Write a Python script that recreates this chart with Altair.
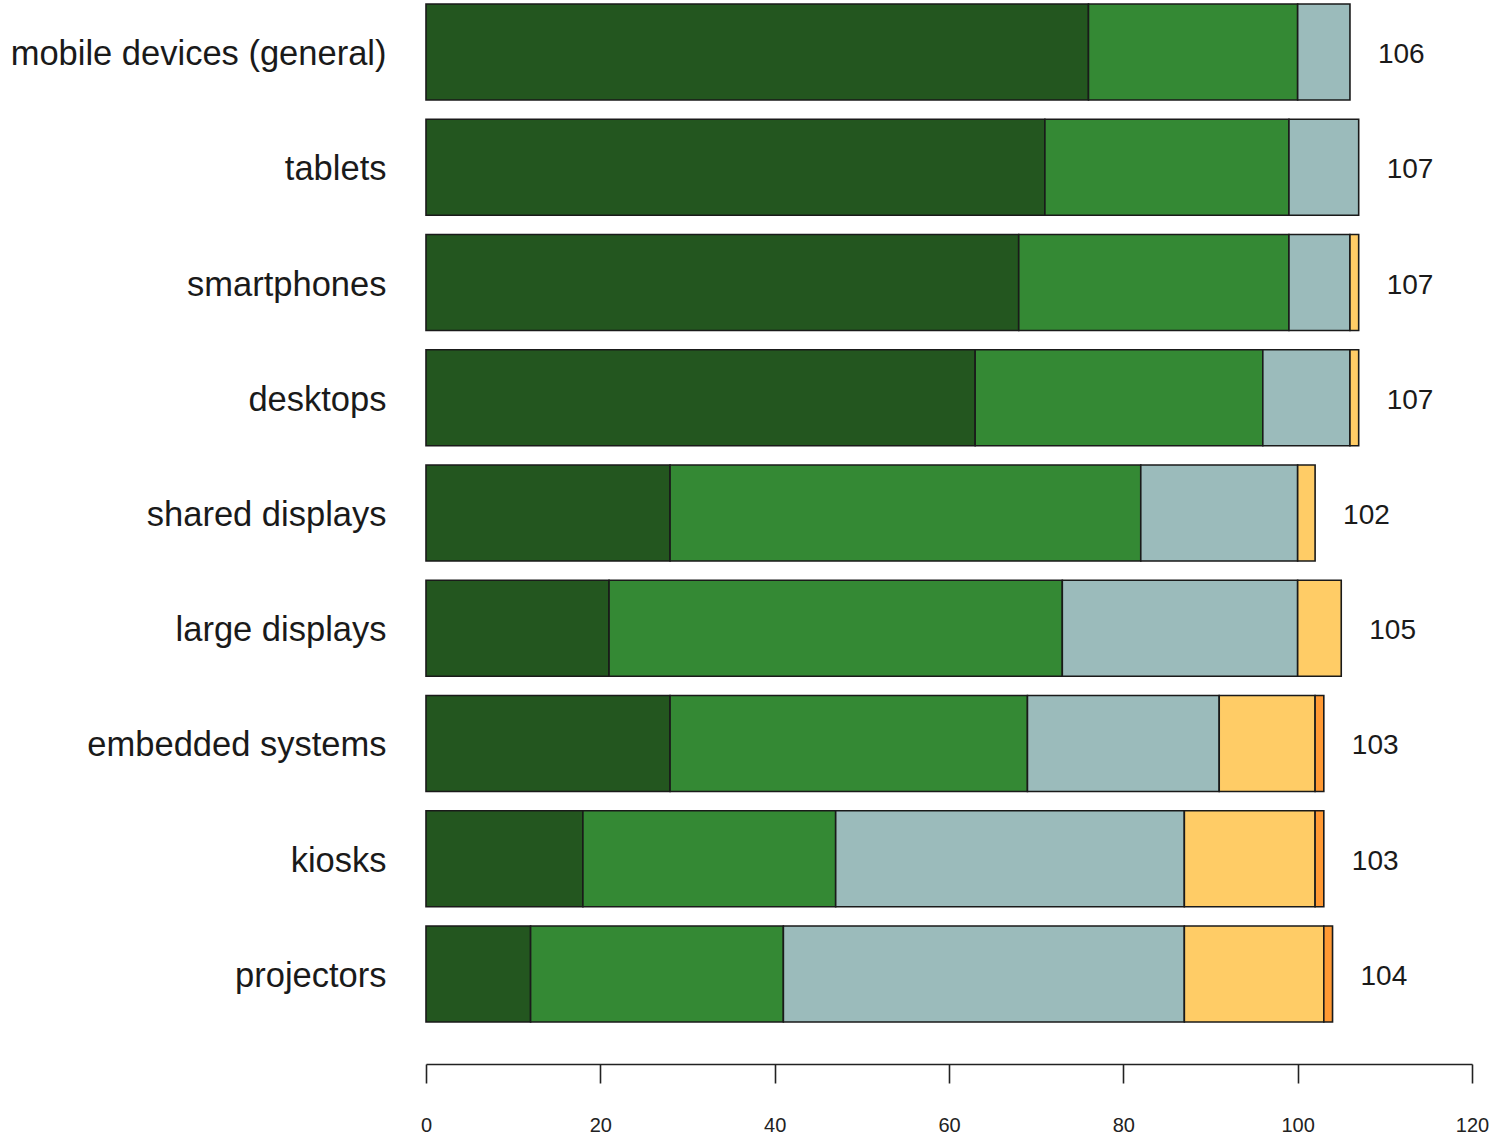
import altair as alt
import pandas as pd

devices = [
    "mobile devices (general)", "tablets", "smartphones", "desktops",
    "shared displays", "large displays", "embedded systems", "kiosks", "projectors",
]
seg_names = ["s1", "s2", "s3", "s4", "s5"]
seg_colors = ["#23561F", "#348934", "#9BBBBB", "#FFCC66", "#FF9933"]

s1 = [76, 71, 68, 63, 28, 21, 28, 18, 12]
s2 = [24, 28, 31, 33, 54, 52, 41, 29, 29]
s3 = [6, 8, 7, 10, 18, 27, 22, 40, 46]
s4 = [0, 0, 1, 1, 2, 5, 11, 15, 16]
s5 = [0, 0, 0, 0, 0, 0, 1, 1, 1]
totals = [106, 107, 107, 107, 102, 105, 103, 103, 104]

rows = []
for i, d in enumerate(devices):
    start = 0
    for k, series in enumerate([s1, s2, s3, s4, s5]):
        v = series[i]
        if v > 0:
            rows.append({"device": d, "seg": seg_names[k], "order": k,
                         "x0": start, "x1": start + v})
        start += v
bars_df = pd.DataFrame(rows)
tot_df = pd.DataFrame({"device": devices, "total": totals})

FONT = "Liberation Sans"

y_enc = alt.Y(
    "device:N", sort=devices, title=None,
    scale=alt.Scale(paddingInner=0.167, paddingOuter=0.035),
    axis=alt.Axis(domain=False, ticks=False, labelPadding=40, labelFontSize=34.5,
                  labelFont=FONT, labelColor="#1a1a1a", labelLimit=700,
                  labelOffset=3),
)

bars = alt.Chart(bars_df).mark_bar(stroke="#1a1a1a", strokeWidth=1.6).encode(
    x=alt.X("x0:Q", title=None,
            scale=alt.Scale(domain=[0, 120], nice=False),
            axis=alt.Axis(values=[0, 20, 40, 60, 80, 100, 120], grid=False,
                          offset=38, tickSize=19, tickWidth=1.6, tickColor="#222",
                          domainColor="#222", domainWidth=1.6, labelFlush=False,
                          labelFont=FONT, labelFontSize=20, labelColor="#222",
                          labelPadding=32)),
    x2="x1:Q",
    y=y_enc,
    color=alt.Color("seg:N", scale=alt.Scale(domain=seg_names, range=seg_colors),
                    legend=None),
    order="order:Q",
)

labels = alt.Chart(tot_df).mark_text(
    align="left", baseline="middle", dx=28, dy=3, fontSize=28, font=FONT,
    color="#1a1a1a"
).encode(
    x="total:Q",
    y=alt.Y("device:N", sort=devices),
    text="total:Q",
)

chart = alt.layer(bars, labels).properties(
    width=1046, height=1026,
    background="white",
    autosize=alt.AutoSizeParams(type="none"),
    padding={"left": 426, "top": 0, "right": 25, "bottom": 112},
).configure_view(stroke=None)

chart.save("out.html", embed_options={"renderer": "svg", "actions": False})
